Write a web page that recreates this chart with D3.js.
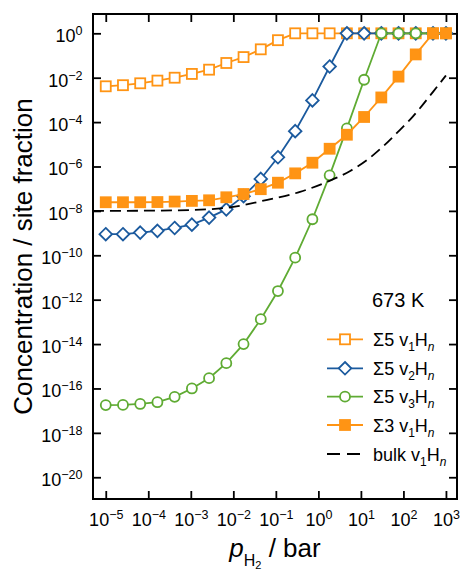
<!DOCTYPE html>
<html><head><meta charset="utf-8">
<script src="https://cdn.jsdelivr.net/npm/d3@7"></script>
<style>
html,body{margin:0;padding:0;background:#fff;}
svg{display:block;font-family:"Liberation Sans",Arial,Helvetica,sans-serif;}
</style></head><body>
<svg id="chart" width="461" height="571"></svg>
<script>
// ---- data ----
const pressures = [1.0e-5, 2.54e-5, 6.46e-5, 1.64e-4, 4.17e-4, 1.06e-3, 2.69e-3, 6.84e-3, 1.74e-2, 4.42e-2, 0.112, 0.285, 0.724, 1.84, 4.68, 11.9, 30.2, 76.7, 195, 496, 1000];
const sigma5v1 = [4.1e-3, 4.6e-3, 5.6e-3, 7.4e-3, 1.0e-2, 1.48e-2, 2.3e-2, 4.6e-2, 8.5e-2, 0.19, 0.49, 1, 1, 1, 1, 1, 1, 1, 1, 1, 1];
const sigma5v2 = [8.9e-10, 8.9e-10, 1.05e-9, 1.26e-9, 1.7e-9, 2.4e-9, 5.0e-9, 1.17e-8, 4.6e-8, 2.75e-7, 2.6e-6, 3.9e-5, 9.5e-4, 3.2e-2, 1, 1, 1, 1, 1, 1, 1];
const sigma5v3 = [1.78e-17, 1.82e-17, 2.0e-17, 2.4e-17, 4.2e-17, 1.0e-16, 2.9e-16, 1.38e-15, 1.0e-14, 1.32e-13, 2.45e-12, 7.8e-11, 4.2e-9, 4.0e-7, 5.2e-5, 8.1e-3, 1, 1, 1, 1, 1];
const sigma3v1 = [2.45e-8, 2.45e-8, 2.45e-8, 2.5e-8, 2.63e-8, 2.82e-8, 3.0e-8, 4.1e-8, 5.75e-8, 9.5e-8, 1.86e-7, 4.9e-7, 1.48e-6, 6.3e-6, 2.7e-5, 1.7e-4, 1.29e-3, 1.12e-2, 0.112, 1, 1];
const bulkPressures = [5.0e-6, 1e-4, 1e-3, 1e-2, 6.3e-2, 0.37, 1.58, 5.6, 14.1, 33.9, 83.2, 145, 513, 1000];
const bulkV1 = [1.0e-8, 1.02e-8, 1.1e-8, 1.51e-8, 3.16e-8, 7.2e-8, 2.0e-7, 6.3e-7, 2.0e-6, 8.3e-6, 4.5e-5, 1.32e-4, 2.5e-3, 1.26e-2];
const xTickExps = [-5, -4, -3, -2, -1, 0, 1, 2, 3];
const yTickExps = [0, -2, -4, -6, -8, -10, -12, -14, -16, -18, -20];
const legendPrefix = ["Σ5 v", "Σ5 v", "Σ5 v", "Σ3 v", "bulk v"];
const legendSub = ["1", "2", "3", "1", "1"];
const tempLabel = "673 K";

// ---- styles ----
const ORANGE = "#ff9414", BLUE = "#1b5a9e", GREEN = "#5fab33";
const series = [
  {vals: sigma5v1, color: ORANGE, marker: "square", fill: "#fff"},
  {vals: sigma5v2, color: BLUE, marker: "diamond", fill: "#fff"},
  {vals: sigma5v3, color: GREEN, marker: "circle", fill: "#fff"},
  {vals: sigma3v1, color: ORANGE, marker: "square", fill: ORANGE},
];

const L = 93, R = 457, T = 14, B = 499;
const svg = d3.select("#chart");
const x = d3.scaleLog().domain([Math.pow(10, -5.3), Math.pow(10, 3.26)]).range([L, R]);
const y = d3.scaleLog().domain([Math.pow(10, -20.98), Math.pow(10, 0.87)]).range([B, T]);

function supLabel(sel, exp) {
  sel.text(null);
  sel.append("tspan").text("10");
  sel.append("tspan").attr("dy", -7).attr("font-size", 12.5)
     .text(String(exp).replace("-", "\u2212"));
}

// axes
const tickW = 1.8, tickLen = 8;
const gB = svg.append("g").attr("transform", `translate(0,${B})`)
  .call(d3.axisBottom(x).tickValues(xTickExps.map(e => Math.pow(10, e))).tickSize(-tickLen).tickFormat(() => ""));
gB.selectAll(".tick text").attr("y", 27).attr("dy", null).attr("font-size", 18).attr("fill", "#000")
  .each(function(d) { supLabel(d3.select(this), Math.round(Math.log10(d))); });
const gT = svg.append("g").attr("transform", `translate(0,${T})`)
  .call(d3.axisTop(x).tickValues(xTickExps.map(e => Math.pow(10, e))).tickSize(-tickLen).tickFormat(() => ""));
const gL = svg.append("g").attr("transform", `translate(${L},0)`)
  .call(d3.axisLeft(y).tickValues(yTickExps.map(e => Math.pow(10, e))).tickSize(-tickLen).tickFormat(() => ""));
gL.selectAll(".tick text").attr("x", -10.5).attr("y", 8.5).attr("dy", null).attr("font-size", 18).attr("fill", "#000")
  .attr("text-anchor", "end")
  .each(function(d) { supLabel(d3.select(this), Math.round(Math.log10(d))); });
const gR = svg.append("g").attr("transform", `translate(${R},0)`)
  .call(d3.axisRight(y).tickValues(yTickExps.map(e => Math.pow(10, e))).tickSize(-tickLen).tickFormat(() => ""));
[gB, gT, gL, gR].forEach(g => {
  g.select(".domain").remove();
  g.selectAll(".tick line").attr("stroke", "#000").attr("stroke-width", tickW);
  g.attr("font-family", null);
});

// series
const line = d3.line().x(d => x(d[0])).y(d => y(d[1]));
function drawMarker(g, type, cx, cy, color, fill) {
  if (type === "square") {
    const s = 10;
    g.append("rect").attr("x", cx - s / 2).attr("y", cy - s / 2).attr("width", s).attr("height", s)
      .attr("fill", fill).attr("stroke", color).attr("stroke-width", 1.8);
  } else if (type === "diamond") {
    const h = 6.3;
    g.append("path").attr("d", `M${cx},${cy - h}L${cx + h},${cy}L${cx},${cy + h}L${cx - h},${cy}Z`)
      .attr("fill", fill).attr("stroke", color).attr("stroke-width", 1.8);
  } else {
    g.append("circle").attr("cx", cx).attr("cy", cy).attr("r", 5)
      .attr("fill", fill).attr("stroke", color).attr("stroke-width", 1.8);
  }
}
series.forEach(s => {
  const pts = pressures.map((p, i) => [p, s.vals[i]]);
  const g = svg.append("g");
  g.append("path").attr("d", line(pts)).attr("fill", "none").attr("stroke", s.color).attr("stroke-width", 1.8);
  pts.forEach(d => drawMarker(g, s.marker, x(d[0]), y(d[1]), s.color, s.fill));
});
const bulkPts = bulkPressures.map((p, i) => [p, bulkV1[i]]);
svg.append("path").attr("d", d3.line().x(d => x(d[0])).y(d => y(d[1])).curve(d3.curveMonotoneX)(bulkPts))
  .attr("fill", "none").attr("stroke", "#000").attr("stroke-width", 1.8).attr("stroke-dasharray", "11,6");

// frame
svg.append("rect").attr("x", L).attr("y", T).attr("width", R - L).attr("height", B - T)
  .attr("fill", "none").attr("stroke", "#000").attr("stroke-width", 2);

// temperature label
svg.append("text").attr("x", 372).attr("y", 307).attr("font-size", 20).text(tempLabel);

// legend
const rows = [339.3, 368.3, 396.7, 425, 454];
const legStyles = [...series.map(s => ({color: s.color, marker: s.marker, fill: s.fill})), {color: "#000", marker: null}];
legStyles.forEach((st, i) => {
  const g = svg.append("g");
  const yy = rows[i];
  const ln = g.append("line").attr("x1", 327).attr("x2", 363).attr("y1", yy).attr("y2", yy)
    .attr("stroke", st.color).attr("stroke-width", 1.8);
  if (st.marker) drawMarker(g, st.marker, 345, yy, st.color, st.fill);
  else ln.attr("stroke-dasharray", "13,7");
  const t = g.append("text").attr("x", 373).attr("y", yy + 6.5).attr("font-size", 18);
  t.append("tspan").text(legendPrefix[i]);
  t.append("tspan").attr("font-size", 12).attr("dy", 5).text(legendSub[i]);
  t.append("tspan").attr("dy", -5).text("H");
  t.append("tspan").attr("font-size", 12).attr("dy", 5).attr("font-style", "italic").text("n");
});

// axis labels
svg.append("text").attr("transform", `translate(32,${(T + B) / 2}) rotate(-90)`)
  .attr("text-anchor", "middle").attr("font-size", 26).text("Concentration / site fraction");
const xl = svg.append("text").attr("x", (L + R) / 2).attr("y", 557).attr("text-anchor", "middle").attr("font-size", 26);
xl.append("tspan").attr("font-style", "italic").text("p");
xl.append("tspan").attr("font-size", 16).attr("dy", 9).text("H");
xl.append("tspan").attr("font-size", 11).attr("dy", 3).text("2");
xl.append("tspan").attr("dy", -12).text(" / bar");
</script>
</body></html>
